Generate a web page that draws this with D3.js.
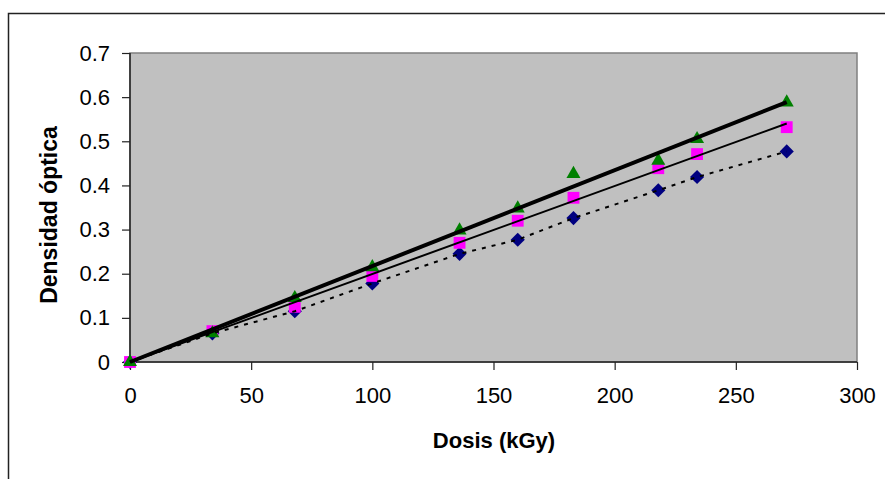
<!DOCTYPE html>
<html>
<head>
<meta charset="utf-8">
<script src="https://cdn.jsdelivr.net/npm/d3@7"></script>
<style>
  body { margin: 0; background: #fff; }
  text { font-family: "Liberation Sans", Arial, sans-serif; }
</style>
</head>
<body>
<script>
const dosis = [0, 34, 68, 100, 136, 160, 183, 218, 234, 271];
const serieRombos = [0, 0.065, 0.115, 0.178, 0.245, 0.277, 0.326, 0.389, 0.419, 0.477];
const serieCuadros = [0, 0.07, 0.125, 0.195, 0.27, 0.32, 0.372, 0.439, 0.471, 0.532];
const serieTriangulos = [0, 0.065, 0.145, 0.215, 0.298, 0.348, 0.426, 0.456, 0.505, 0.588];
const xTicks = [0, 50, 100, 150, 200, 250, 300];
const yTicks = [0, 0.1, 0.2, 0.3, 0.4, 0.5, 0.6, 0.7];

const w = 885;
const h = 479;
const plotL = 130, plotR = 857, plotT = 53, plotB = 362;

const xScale = d3.scaleLinear().domain([0, 300]).range([plotL, plotR]);
const yScale = d3.scaleLinear().domain([0, 0.7]).range([plotB, plotT]);

const svg = d3.select("body")
              .append("svg")
              .attr("width", w)
              .attr("height", h);

// outer chart frame
svg.append("rect")
   .attr("x", 8.5).attr("y", 13.5)
   .attr("width", w + 20).attr("height", h + 20)
   .attr("fill", "none")
   .attr("stroke", "#222")
   .attr("stroke-width", 1.5);

// plot area
svg.append("rect")
   .attr("x", plotL).attr("y", plotT)
   .attr("width", plotR - plotL).attr("height", plotB - plotT)
   .attr("fill", "#c0c0c0")
   .attr("stroke", "#808080")
   .attr("stroke-width", 1.5);

const xAxis = svg.append("g")
   .attr("transform", `translate(0,${plotB})`)
   .call(d3.axisBottom(xScale).tickValues(xTicks).tickSize(8).tickPadding(17).tickFormat(d3.format("d")));

const yAxis = svg.append("g")
   .attr("transform", `translate(${plotL},0)`)
   .call(d3.axisLeft(yScale).tickValues(yTicks).tickSize(8).tickPadding(12).tickFormat(d => d === 0 ? "0" : d3.format(".1f")(d)));

[xAxis, yAxis].forEach(a => {
  a.select(".domain").attr("stroke", "#222").attr("stroke-width", 1.5);
  a.selectAll(".tick line").attr("stroke", "#222").attr("stroke-width", 1.2);
  a.selectAll(".tick text")
   .attr("font-size", 22)
   .attr("fill", "#000")
   .style("font-family", "'Liberation Sans', Arial, sans-serif");
});
xAxis.select(".domain").attr("d", `M${plotL},0H${plotR}`);
yAxis.select(".domain").attr("d", `M0,${plotB}V${plotT}`);

const idx = d3.range(dosis.length);

// markers
const diamond = d3.symbol().type(d3.symbolSquare).size(100);
svg.append("g").selectAll("path")
   .data(idx).enter().append("path")
   .attr("d", diamond)
   .attr("transform", i => `translate(${xScale(dosis[i])},${yScale(serieRombos[i])}) rotate(45)`)
   .attr("fill", "#000080");

const square = d3.symbol().type(d3.symbolSquare).size(140);
svg.append("g").selectAll("path")
   .data(idx).enter().append("path")
   .attr("d", square)
   .attr("transform", i => `translate(${xScale(dosis[i])},${yScale(serieCuadros[i])})`)
   .attr("fill", "#ff00ff");

const tri = d3.symbol().type(d3.symbolTriangle).size(85);
svg.append("g").selectAll("path")
   .data(idx).enter().append("path")
   .attr("d", tri)
   .attr("transform", i => `translate(${xScale(dosis[i])},${yScale(serieTriangulos[i])})`)
   .attr("fill", "#008000");

// linear trendlines through the origin
const slope = ys => d3.sum(idx, i => dosis[i] * ys[i]) / d3.sum(idx, i => dosis[i] * dosis[i]);
const xMax = d3.max(dosis);

const lineT = d3.line().x(d => xScale(d[0])).y(d => yScale(d[1]));

const sT = slope(serieTriangulos);
svg.append("path")
   .attr("d", lineT([[0, 0], [xMax, sT * xMax]]))
   .attr("stroke", "#000").attr("stroke-width", 4).attr("fill", "none");

const sC = slope(serieCuadros);
svg.append("path")
   .attr("d", lineT([[0, 0], [xMax, sC * xMax]]))
   .attr("stroke", "#000").attr("stroke-width", 2).attr("fill", "none");

// dotted line joining the diamond series
svg.append("path")
   .attr("d", lineT(idx.map(i => [dosis[i], serieRombos[i]])))
   .attr("stroke", "#000").attr("stroke-width", 2)
   .attr("stroke-dasharray", "4,6")
   .attr("fill", "none");

// axis titles
svg.append("text")
   .attr("x", 494).attr("y", 448)
   .attr("text-anchor", "middle")
   .attr("font-size", 22).attr("font-weight", "bold")
   .text("Dosis (kGy)");

svg.append("text")
   .attr("transform", "translate(57,215) rotate(-90)")
   .attr("text-anchor", "middle")
   .attr("font-size", 23).attr("font-weight", "bold")
   .text("Densidad óptica");
</script>
</body>
</html>
